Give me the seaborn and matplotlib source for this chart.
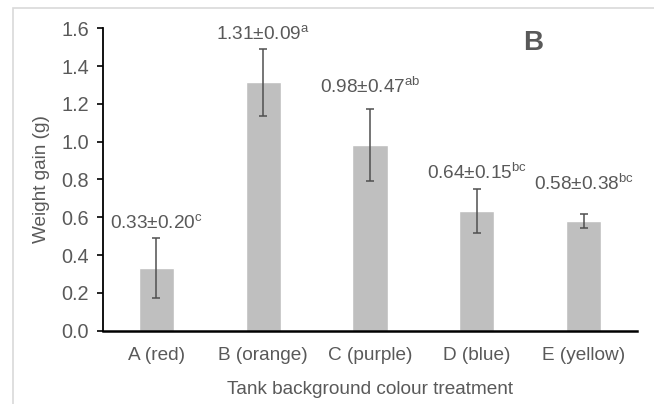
import matplotlib
matplotlib.use("Agg")
import matplotlib.pyplot as plt
import seaborn as sns
import pandas as pd
import numpy as np
from matplotlib.patches import Rectangle

categories = ["A (red)", "B (orange)", "C (purple)", "D (blue)", "E (yellow)"]
means = [0.333, 1.315, 0.982, 0.635, 0.579]
errors = [0.16, 0.178, 0.19, 0.117, 0.036]
label_main = ["0.33\u00b10.20", "1.31\u00b10.09", "0.98\u00b10.47", "0.64\u00b10.15", "0.58\u00b10.38"]
label_sup = ["c", "a", "ab", "bc", "bc"]

sns.set_theme(style="white")
plt.rcParams['font.family'] = ['Liberation Sans', 'DejaVu Sans']
plt.rcParams['mathtext.fontset'] = 'custom'
plt.rcParams['mathtext.rm'] = 'Liberation Sans'
plt.rcParams['mathtext.it'] = 'Liberation Sans'

txt = "#595959"
fs = 13.7
df = pd.DataFrame({"cat": categories, "mean": means})

fig = plt.figure(figsize=(6.54, 4.04), dpi=100)
ax = fig.add_axes([103/654, 1-330.7/404, 534/654, 302.4/404])

sns.barplot(data=df, x="cat", y="mean", color="#BFBFBF", saturation=1, width=0.33, ax=ax, errorbar=None)
xs = np.arange(len(categories))
ax.errorbar(xs, means, yerr=errors, fmt="none", ecolor="#505050", elinewidth=1.1, capsize=2.8, capthick=1.1)

label_gap = [0.079, 0.079, 0.116, 0.085, 0.164]
for i, (m, e) in enumerate(zip(means, errors)):
    ax.text(i, m + e + label_gap[i], label_main[i] + r"$^{\mathrm{" + label_sup[i] + "}}$",
            ha="center", va="center", fontsize=fs, color=txt)

ax.set_ylim(0, 1.6)
ax.set_xlim(-0.5, 4.5)
ax.set_yticks(np.arange(0, 1.61, 0.2))
ax.set_yticklabels([f"{v:.1f}" for v in np.arange(0, 1.61, 0.2)])
ax.tick_params(axis="y", which="major", direction="out", length=4, width=1.2, color="black",
               labelsize=14.3, labelcolor=txt, pad=6, left=True)
ax.tick_params(axis="x", length=0, labelsize=fs, labelcolor=txt, pad=12)
for s in ["top", "right"]:
    ax.spines[s].set_visible(False)
ax.spines["left"].set_color("black")
ax.spines["left"].set_linewidth(1.3)
ax.spines["bottom"].set_color("black")
ax.spines["bottom"].set_linewidth(1.8)
ax.set_xlabel("Tank background colour treatment", fontsize=fs, color=txt, labelpad=12)
ax.set_ylabel("Weight gain (g)", fontsize=fs, color=txt, labelpad=8)

ax.text(0.805, 0.951, "B", transform=ax.transAxes, fontsize=20, fontweight="bold", color=txt, ha="center", va="center")

fig.patches.append(Rectangle((13/654, -0.1), 1.2, 1.1 - 8/404, transform=fig.transFigure,
                             fill=False, edgecolor="#D9D9D9", linewidth=1.2))

fig.savefig("out.png", dpi=100)
